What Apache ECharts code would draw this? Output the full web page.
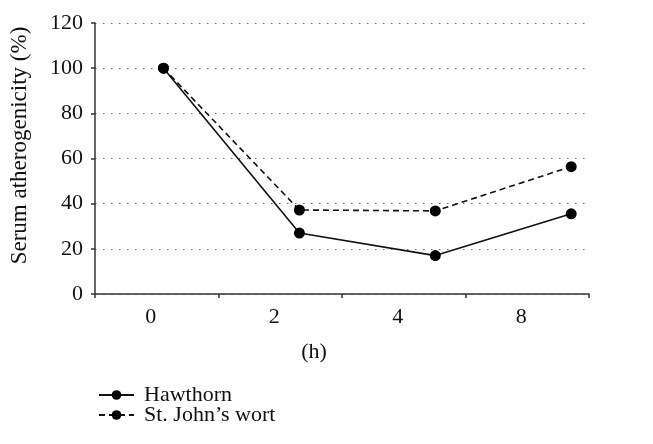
<!DOCTYPE html>
<html>
<head>
<meta charset="utf-8">
<script src="https://cdn.jsdelivr.net/npm/echarts@6/dist/echarts.min.js"></script>
<style>
  html, body { margin: 0; padding: 0; background: #fff; }
  #chart { width: 653px; height: 444px; }
</style>
</head>
<body>
<div id="chart"></div>
<script>
  // time points (h)
  var hours = ['0', '2', '4', '8'];
  // serum atherogenicity (%)
  var hawthorn = [100, 27, 17, 35.5];
  var stJohnsWort = [100, 37.2, 36.8, 56.4];
  var yTicks = [0, 20, 40, 60, 80, 100, 120];

  var font = '"Liberation Serif", "DejaVu Serif", serif';

  // points are placed by their index on a hidden value axis
  function toPairs(arr) {
    return arr.map(function (v, i) { return [i, v]; });
  }

  var myChart = echarts.init(document.getElementById('chart'));
  myChart.setOption({
    animation: false,
    textStyle: { fontFamily: font },
    grid: { left: 92, right: 64, top: 23, bottom: 150 },
    legend: {
      orient: 'vertical',
      left: 93,
      top: 379,
      itemWidth: 35,
      itemHeight: 12,
      itemGap: -2,
      textStyle: { fontFamily: font, fontSize: 22, color: '#111', padding: [0, 0, 0, 5] },
      data: ['Hawthorn', 'St. John\u2019s wort']
    },
    xAxis: [
      {
        type: 'category',
        data: hours,
        name: '(h)',
        nameLocation: 'middle',
        nameGap: 47,
        nameTextStyle: { fontFamily: font, fontSize: 22, color: '#111', padding: [0, 56, 0, 0] },
        axisLine: { show: true, lineStyle: { color: '#333', width: 1.5 } },
        axisTick: { show: true, length: 4, lineStyle: { color: '#333', width: 1.5 } },
        axisLabel: { fontFamily: font, fontSize: 22, color: '#111', margin: 12, padding: [0, 12, 0, 0] },
        splitLine: { show: false }
      },
      {
        type: 'value',
        show: false,
        min: -0.504,
        max: 3.131
      }
    ],
    yAxis: {
      type: 'value',
      min: 0,
      max: 120,
      interval: 20,
      name: 'Serum atherogenicity (%)',
      nameLocation: 'middle',
      nameGap: 64,
      nameTextStyle: { fontFamily: font, fontSize: 23, color: '#111', padding: [0, 0, 0, 26] },
      axisLine: { show: true, onZero: false, lineStyle: { color: '#333', width: 1.5 } },
      axisTick: { show: true, length: 4, lineStyle: { color: '#333', width: 1.5 } },
      axisLabel: {
        fontFamily: font, fontSize: 22, color: '#111', margin: 12,
        formatter: function (v) { return yTicks.indexOf(v) >= 0 ? String(v) : ''; }
      },
      splitLine: { show: true, lineStyle: { color: '#666', type: [1.5, 6.5], width: 1 } }
    },
    series: [
      {
        name: 'Hawthorn',
        type: 'line',
        xAxisIndex: 1,
        data: toPairs(hawthorn),
        symbol: 'circle',
        symbolSize: 11,
        itemStyle: { color: '#000' },
        lineStyle: { color: '#111', width: 1.6, type: 'solid' },
        z: 3
      },
      {
        name: 'St. John\u2019s wort',
        type: 'line',
        xAxisIndex: 1,
        data: toPairs(stJohnsWort),
        symbol: 'circle',
        symbolSize: 11,
        itemStyle: { color: '#000' },
        lineStyle: { color: '#111', width: 1.6, type: [6, 4] },
        z: 2
      }
    ]
  });
</script>
</body>
</html>
